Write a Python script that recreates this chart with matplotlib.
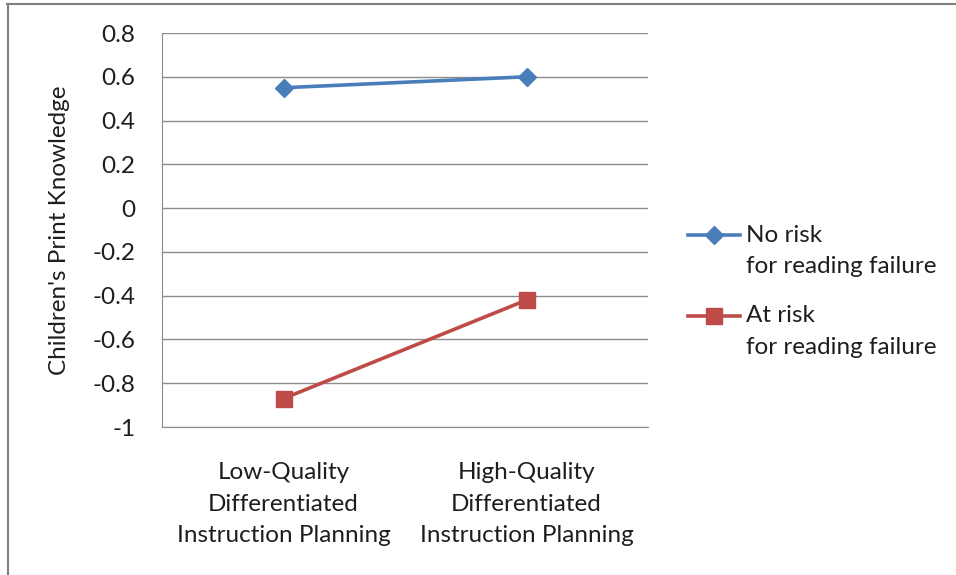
import matplotlib.pyplot as plt
from matplotlib.lines import Line2D

plt.rcParams['font.family'] = ['Lato', 'DejaVu Sans']

# Interaction: planning quality x reading risk
categories = ["Low-Quality\nDifferentiated\nInstruction Planning",
              "High-Quality\nDifferentiated\nInstruction Planning"]
no_risk = [0.55, 0.60]
at_risk = [-0.87, -0.42]
series_names = [("No risk", "for reading failure"), ("At risk", "for reading failure")]
yticks = [0.8, 0.6, 0.4, 0.2, 0, -0.2, -0.4, -0.6, -0.8, -1]

blue = "#4A7EBB"
red = "#BE4B48"
grid_col = "#8C8C8C"
txt_col = "#1E1E1E"
fs = 17.5
lw = 2.6

W, H = 956, 575
fig = plt.figure(figsize=(W / 100, H / 100), dpi=100)
ax = fig.add_axes([162 / W, 1 - 427 / H, 486 / W, 394 / H])

x = [0, 1]
styles = [dict(color=blue, marker='D', ms=9), dict(color=red, marker='s', ms=11.5)]
ax.plot(x, no_risk, lw=lw, **styles[0])
ax.plot(x, at_risk, lw=lw, **styles[1])

ax.set_xlim(-0.5, 1.5)
ax.set_ylim(-1, 0.8)
ax.set_yticks(yticks)
ax.set_yticklabels([f"{v:g}" for v in yticks])
ax.set_xticks(x)
ax.set_xticklabels(categories, linespacing=1.62)
ax.tick_params(axis='both', length=0, labelsize=fs, colors=txt_col)
ax.tick_params(axis='y', pad=19)
ax.tick_params(axis='x', pad=25.5)

ax.grid(axis='y', color=grid_col, lw=1)
for side in ['top', 'right']:
    ax.spines[side].set_visible(False)
ax.spines['left'].set_color(grid_col)
ax.spines['bottom'].set_color(grid_col)
ax.set_axisbelow(True)

ax.set_ylabel("Children's Print Knowledge", fontsize=fs, color=txt_col, labelpad=16)

# legend entries: sample line with marker, series name on two lines
for (first, second), st, y0 in zip(series_names, styles, [235, 316]):
    fig.add_artist(Line2D([688 / W, 740 / W], [1 - y0 / H] * 2, lw=lw, color=st['color']))
    fig.add_artist(Line2D([714 / W], [1 - y0 / H], lw=0, **st))
    fig.text(746 / W, 1 - y0 / H, first, fontsize=fs, color=txt_col, va='center')
    fig.text(746 / W, 1 - (y0 + 32) / H, second, fontsize=fs, color=txt_col, va='center')

# outer chart frame
fig.add_artist(Line2D([7 / W, 1], [1 - 4 / H] * 2, color='#7F7F7F', lw=1.5))
fig.add_artist(Line2D([8 / W, 8 / W], [0, 1 - 4 / H], color='#7F7F7F', lw=1.5))

fig.savefig("out.png", dpi=100)
